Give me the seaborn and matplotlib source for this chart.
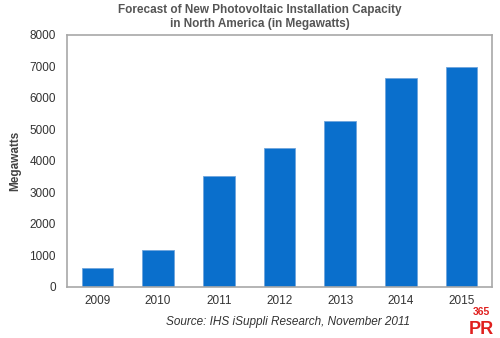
import matplotlib
matplotlib.use("Agg")
import matplotlib.pyplot as plt
import seaborn as sns
import pandas as pd

years = ["2009", "2010", "2011", "2012", "2013", "2014", "2015"]
megawatts = [600, 1170, 3520, 4410, 5270, 6630, 6980]
yticks = [0, 1000, 2000, 3000, 4000, 5000, 6000, 7000, 8000]

df = pd.DataFrame({"year": years, "mw": megawatts})

sns.set_style("white")
plt.rcParams['font.family'] = ['Liberation Sans', 'DejaVu Sans']

fig = plt.figure(figsize=(5.0, 3.38), dpi=100)
ax = fig.add_axes([0.134, 0.151, 0.850, 0.746])
sns.barplot(data=df, x="year", y="mw", color="#0A6FCC", width=0.52,
            saturation=1, ax=ax, edgecolor="#6FA5DC", linewidth=0.6)
ax.set_ylim(0, 8000)
ax.set_yticks(yticks)
ax.set_yticklabels([str(v) for v in yticks], fontsize=8.5, color="#333333")
ax.tick_params(axis="x", labelsize=8.5, colors="#333333", length=0, pad=6)
ax.tick_params(axis="y", length=0, pad=8)
ax.set_xlabel("")
ax.set_ylabel("Megawatts", fontsize=8.5, fontweight="bold", color="#444444", labelpad=6)
for s in ax.spines.values():
    s.set_color("#A8A8A8")
    s.set_linewidth(1.2)

fig.text(0.52, 0.988, "Forecast of New Photovoltaic Installation Capacity\nin North America (in Megawatts)",
         ha="center", va="top", fontsize=8.5, fontweight="bold", color="#555555", linespacing=1.25)
fig.text(0.82, 0.03, "Source: IHS iSuppli Research, November 2011", ha="right", va="bottom",
         fontsize=8.5, style="italic", color="#333333")
fig.text(0.962, 0.062, "365", ha="center", va="bottom", fontsize=7.5, fontweight="bold", color="#E0201E")
fig.text(0.962, 0.0, "PR", ha="center", va="bottom", fontsize=13, fontweight="bold", color="#E0201E")

fig.savefig("out.png", dpi=100)
